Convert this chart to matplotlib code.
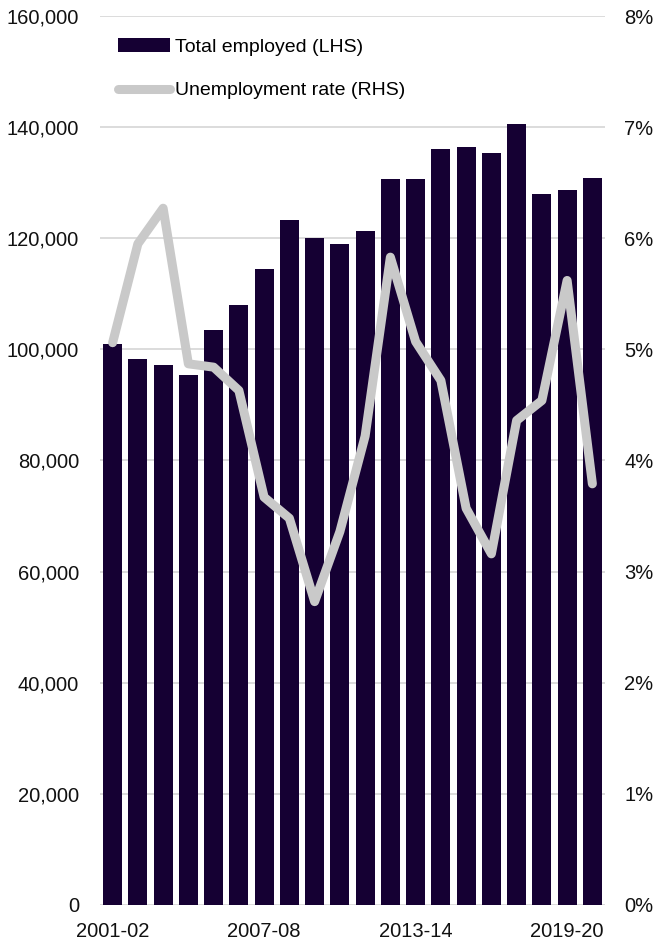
import numpy as np
import matplotlib
matplotlib.use('Agg')
import matplotlib.pyplot as plt
from matplotlib.patches import Patch
from matplotlib.lines import Line2D
from matplotlib.ticker import FuncFormatter

plt.rcParams['font.family'] = ['Liberation Sans', 'DejaVu Sans']

# data
years = ['2001-02', '2002-03', '2003-04', '2004-05', '2005-06', '2006-07', '2007-08',
         '2008-09', '2009-10', '2010-11', '2011-12', '2012-13', '2013-14', '2014-15',
         '2015-16', '2016-17', '2017-18', '2018-19', '2019-20', '2020-21']
employed = [101000, 98300, 97200, 95300, 103500, 108000, 114500, 123200, 120100, 118900,
            121300, 130600, 130600, 136000, 136400, 135400, 140500, 128000, 128600, 130800]
unemp = [5.06, 5.95, 6.27, 4.87, 4.84, 4.63, 3.67, 3.48, 2.73, 3.36,
         4.22, 5.83, 5.07, 4.72, 3.57, 3.16, 4.36, 4.54, 5.62, 3.79]
shown_ticks = ['2001-02', '2007-08', '2013-14', '2019-20']

bar_col = '#150033'
line_col = '#c9c9c9'
grid_col = '#d9d9d9'
fs = 14.5

fig = plt.figure(figsize=(6.55, 9.43), dpi=100)
ax = fig.add_axes([100/655, 1-905/943, 505/655, 889/943])
x = np.arange(len(years))

ax.bar(x, employed, width=0.75, color=bar_col, edgecolor='none', zorder=2)
ax.set_xlim(-0.5, len(years)-0.5)
ax.set_ylim(0, 160000)
ax.set_yticks(np.arange(0, 160001, 20000))
ax.yaxis.set_major_formatter(FuncFormatter(lambda v, p: '{:,.0f}'.format(v)))
ax.grid(axis='y', color=grid_col, linewidth=1.3)
ax.set_axisbelow(True)
ax.set_xticks([years.index(t) for t in shown_ticks])
ax.set_xticklabels(shown_ticks)
for s in ax.spines.values():
    s.set_visible(False)
ax.tick_params(axis='both', length=0, labelsize=fs, colors='#111111')
ax.tick_params(axis='y', pad=15)
ax.tick_params(axis='x', pad=12)

ax2 = ax.twinx()
ax2.plot(x, unemp, color=line_col, linewidth=6.5, solid_capstyle='round',
         solid_joinstyle='round', zorder=3)
ax2.set_ylim(0, 8)
ax2.set_yticks(np.arange(0, 9, 1))
ax2.yaxis.set_major_formatter(FuncFormatter(lambda v, p: '%d%%' % v))
for s in ax2.spines.values():
    s.set_visible(False)
ax2.tick_params(axis='y', length=0, labelsize=fs, pad=14, colors='#111111')

# legend
handles = [Patch(facecolor=bar_col, edgecolor='none'),
           Line2D([0], [0], color=line_col, linewidth=6.5, solid_capstyle='round')]
labels = ['Total employed (LHS)', 'Unemployment rate (RHS)']
leg = ax2.legend(handles, labels, loc='upper left', bbox_to_anchor=(0.0, 0.995),
                 frameon=False, fontsize=14, handlelength=2.7, handletextpad=0.25,
                 labelspacing=1.35, borderaxespad=0.5)

plt.savefig('out.png', dpi=100)
